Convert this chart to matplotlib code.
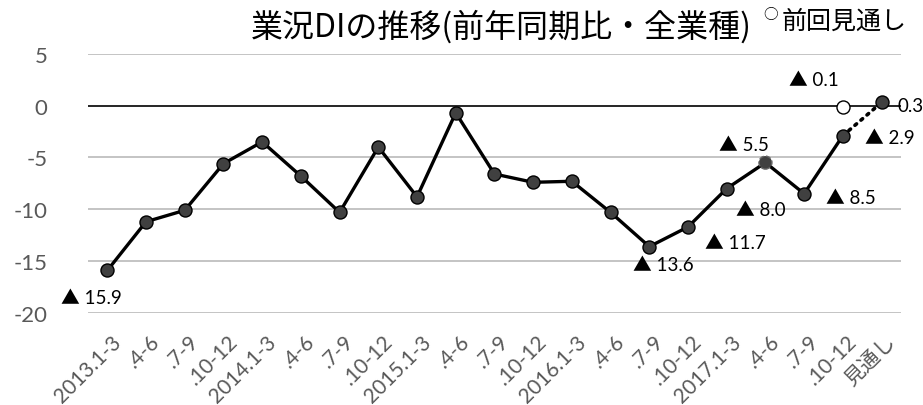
import matplotlib
matplotlib.use("Agg")
import matplotlib.pyplot as plt
from matplotlib.transforms import ScaledTranslation

plt.rcParams['font.family'] = ['Noto Sans CJK JP', 'DejaVu Sans']

categories = ["2013.1-3", ".4-6", ".7-9", ".10-12", "2014.1-3", ".4-6", ".7-9", ".10-12",
              "2015.1-3", ".4-6", ".7-9", ".10-12", "2016.1-3", ".4-6", ".7-9", ".10-12",
              "2017.1-3", ".4-6", ".7-9", ".10-12", "見通し"]
actual = [-15.9, -11.2, -10.1, -5.6, -3.5, -6.8, -10.3, -4.0, -8.8, -0.7,
          -6.6, -7.4, -7.3, -10.3, -13.6, -11.7, -8.0, -5.5, -8.5, -2.9]
forecast = 0.3
previous_forecast = -0.1
title = "業況DIの推移(前年同期比・全業種)"
legend_mark = "○"
legend_text = "前回見通し"
yticks = [5, 0, -5, -10, -15, -20]

# labelled points: (index, text)
label_idx = [0, 14, 15, 16, 17, 18, 19]
label_txt = ["▲ 15.9", "▲ 13.6", "▲ 11.7", "▲ 8.0", "▲ 5.5", "▲ 8.5", "▲ 2.9"]
label_dx = [-0.41, 0.37, 1.22, 0.87, -0.56, 1.21, 1.2]
label_dy = [-2.57, -1.73, -1.5, -2.0, 1.75, -0.4, -0.2]

fig = plt.figure(figsize=(9.23, 4.06), dpi=100)
ax = fig.add_axes([0.0953, 0.2266, 0.8808, 0.6387])

x = list(range(len(categories)))
n = len(actual)

for v in yticks:
    if v == 0:
        continue
    ax.axhline(v, color='#BFBFBF', lw=1.3, zorder=1)
ax.axhline(0, color='black', lw=1.2, zorder=1)

ax.plot(x[:n], actual, color='black', lw=2.4, zorder=2)
ax.plot([x[n - 1], x[n]], [actual[-1], forecast], color='black', lw=2.6,
        linestyle=(0, (0.6, 1.6)), dash_capstyle='round', zorder=2)

S = 88
normal = [i for i in range(n) if i != 17]
ax.scatter([x[i] for i in normal], [actual[i] for i in normal], s=S,
           facecolor='#404040', edgecolor='black', linewidths=1.0, zorder=3)
ax.scatter([x[17]], [actual[17]], s=S, facecolor='#404040', edgecolor='#666666',
           linewidths=1.0, linestyles='--', zorder=3)
ax.scatter([x[n]], [forecast], s=S, facecolor='#404040', edgecolor='black',
           linewidths=1.0, zorder=3)
ax.scatter([x[n - 1]], [previous_forecast], s=S, facecolor='white',
           edgecolor='black', linewidths=1.0, zorder=3)

lab_font = ['Lato', 'Noto Sans CJK JP']
for i, t, dx, dy in zip(label_idx, label_txt, label_dx, label_dy):
    ax.text(x[i] + dx, actual[i] + dy, t, fontsize=13.5, ha='center', va='center',
            family=lab_font, color='black')
ax.text(x[n - 1] - 0.74, previous_forecast + 2.6, "▲ 0.1", fontsize=13.5, ha='center',
        va='center', family=lab_font, color='black')
ax.text(x[n] + 0.42, forecast - 0.3, "0.3", fontsize=13.5, ha='left', va='center',
        family=lab_font, color='black')

ax.set_xlim(-0.5, len(categories) - 0.5)
ax.set_ylim(-20, 5)
ax.set_yticks(yticks)
ax.set_yticklabels([str(v) for v in yticks], family=lab_font, fontsize=16,
                   color='#595959')
ax.set_xticks(x)
ax.set_xticklabels(categories, fontsize=15, color='#595959', family=lab_font)
ax.tick_params(axis='both', length=0)
ax.tick_params(axis='y', pad=29)
ax.tick_params(axis='x', pad=18)
off = ScaledTranslation(0.11, 0, fig.dpi_scale_trans)
for lbl in ax.get_xticklabels():
    lbl.set_rotation(45)
    lbl.set_ha('right')
    lbl.set_va('center')
    lbl.set_rotation_mode('anchor')
    lbl.set_transform(lbl.get_transform() + off)
for s in ax.spines.values():
    s.set_visible(False)

fig.text(0.272, 0.9335, title, fontsize=23, ha='left', va='center', color='black')
fig.text(0.8345, 0.962, legend_mark, fontsize=10.5, ha='center', va='center', color='black')
fig.text(0.847, 0.946, legend_text, fontsize=18, ha='left', va='center', color='black')

fig.savefig("out.png", dpi=100)
